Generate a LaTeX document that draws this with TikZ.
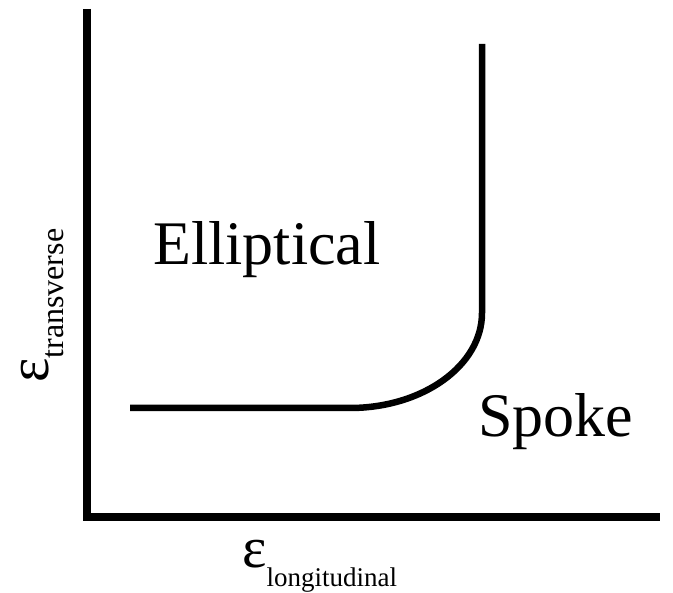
\documentclass[tikz,border=0pt]{standalone}
\usepackage{fontspec}
\setmainfont{Liberation Serif}
\usetikzlibrary{positioning}
\begin{document}
\begin{tikzpicture}[x=1pt, y=1pt, every node/.style={inner sep=0pt}]
        \tikzset{
            ax/.style={line width=8pt},
            bd/.style={line width=6.5pt},
            reg/.style={font=\fontsize{62}{62}\selectfont, anchor=base west},
            eps/.style={font=\fontsize{58}{58}\selectfont, anchor=base west}
        }
        \useasboundingbox (0,0) rectangle (673,593);

        % Axes
        \coordinate (origin) at (87,76);
        \coordinate (ytop) at (87,584);
        \coordinate (xend) at (660,76);
        \draw[ax] (ytop) -- (origin) -- (xend);

        % Boundary between the two regimes
        \coordinate (bstart) at (130,185);
        \coordinate (bknee) at (350,185);
        \coordinate (btop) at (482,549);
        \draw[bd] (bstart) -- (bknee) arc[start angle=270, end angle=360, x radius=132, y radius=95] -- (btop);

        % Regime labels
        \node[reg] (ell) at (153,328) {Elliptical};
        \node[reg] (spk) at (478,156) {Spoke};

        % Axis labels
        \node[eps] (elong) at (242,25) {ε\raisebox{-19pt}{\fontsize{27}{27}\selectfont longitudinal}};
        \node[eps, rotate=90] (etrans) at (48,210) {ε\raisebox{-15pt}{\fontsize{32}{32}\selectfont transverse}};
    \end{tikzpicture}
\end{document}
